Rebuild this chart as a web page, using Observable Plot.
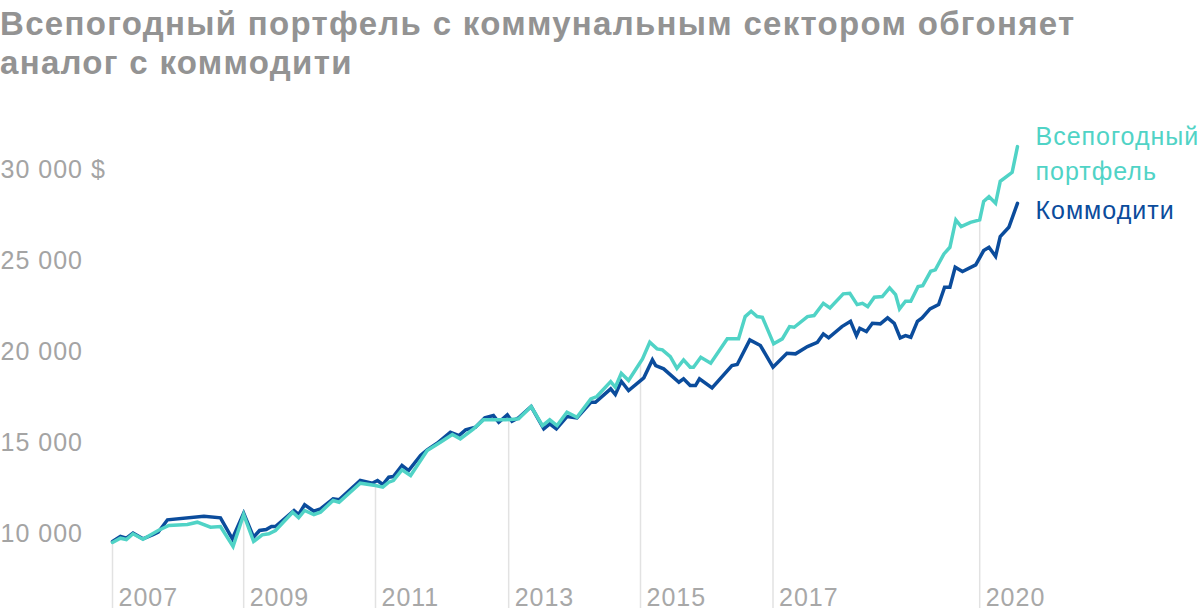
<!DOCTYPE html>
<html>
<head>
<meta charset="utf-8">
<script src="https://cdn.jsdelivr.net/npm/d3@7"></script>
<script src="https://cdn.jsdelivr.net/npm/@observablehq/plot@0.6"></script>
<style>
  html, body { margin: 0; padding: 0; background: #fff; width: 1200px; height: 614px; overflow: hidden; }
  #title { position: absolute; left: 0; top: 4px; font-family: "Liberation Sans", Arial, sans-serif; font-weight: bold; font-size: 33px; letter-spacing: 1.3px; line-height: 39px; color: #939393; white-space: nowrap; }
  #chart { position: absolute; left: 0; top: 100px; }
  #chart svg text { letter-spacing: 1px; }
</style>
</head>
<body>
<div id="title">Всепогодный портфель с коммунальным сектором обгоняет<br>аналог с коммодити</div>
<div id="chart"></div>
<script>
// ---- Data ----
const tealYears = [2007.03,2007.15,2007.24,2007.34,2007.49,2007.72,2007.88,2008.16,2008.31,2008.51,2008.66,2008.85,2009.01,2009.16,2009.29,2009.39,2009.49,2009.75,2009.84,2009.93,2010.07,2010.17,2010.36,2010.45,2010.77,2011.00,2011.11,2011.20,2011.27,2011.40,2011.53,2011.78,2011.98,2012.16,2012.28,2012.48,2012.63,2012.96,2013.16,2013.35,2013.52,2013.63,2013.74,2013.89,2014.04,2014.25,2014.34,2014.55,2014.62,2014.71,2014.82,2015.03,2015.14,2015.25,2015.33,2015.45,2015.55,2015.65,2015.75,2015.80,2015.91,2016.06,2016.31,2016.48,2016.58,2016.67,2016.76,2016.84,2017.01,2017.14,2017.25,2017.32,2017.52,2017.62,2017.76,2017.86,2018.06,2018.16,2018.27,2018.35,2018.43,2018.53,2018.65,2018.76,2018.85,2018.91,2019.00,2019.08,2019.19,2019.26,2019.38,2019.45,2019.58,2019.67,2019.76,2019.84,2019.98,2020.12,2020.18,2020.26,2020.36,2020.43,2020.61,2020.69];
const tealValues = [9505,9742,9670,9984,9687,10165,10440,10495,10622,10347,10385,9285,11045,9560,9929,9984,10165,11172,10864,11265,11045,11172,11815,11722,12767,12640,12547,12822,12915,13504,13190,14565,15022,15445,15209,15759,16254,16254,16309,16985,15940,16254,15940,16672,16397,17409,17535,18360,18047,18817,18415,19609,20522,20159,20104,19735,19092,19554,19147,19147,19697,19367,20709,20709,21935,22227,21935,21897,20434,20709,21385,21347,21935,21990,22667,22414,23184,23217,22595,22667,22485,22997,23035,23514,23145,22359,22777,22777,23585,23640,24427,24504,25384,25747,27254,26885,27122,27254,28277,28535,28167,29377,29872,31285];

const navyYears = [2007.03,2007.15,2007.24,2007.34,2007.49,2007.65,2007.72,2007.86,2008.41,2008.66,2008.84,2009.01,2009.16,2009.25,2009.35,2009.43,2009.49,2009.77,2009.84,2009.93,2010.07,2010.17,2010.36,2010.45,2010.77,2010.95,2011.03,2011.11,2011.20,2011.27,2011.40,2011.50,2011.68,2011.78,2011.93,2012.13,2012.26,2012.36,2012.51,2012.65,2012.78,2012.86,2012.99,2013.06,2013.16,2013.35,2013.54,2013.63,2013.73,2013.89,2014.04,2014.25,2014.32,2014.55,2014.62,2014.71,2014.82,2015.05,2015.18,2015.23,2015.35,2015.58,2015.65,2015.75,2015.83,2015.89,2016.08,2016.38,2016.46,2016.65,2016.81,2017.00,2017.21,2017.34,2017.52,2017.67,2017.76,2017.84,2018.04,2018.17,2018.26,2018.31,2018.41,2018.50,2018.62,2018.73,2018.83,2018.92,2019.00,2019.08,2019.18,2019.25,2019.37,2019.50,2019.59,2019.67,2019.75,2019.86,2020.06,2020.18,2020.26,2020.36,2020.43,2020.56,2020.69];
const navyValues = [9560,9835,9741,10017,9709,9945,10072,10754,10952,10864,9709,11117,9797,10165,10220,10385,10385,11265,11045,11579,11227,11359,11909,11854,12915,12767,12915,12695,13097,13135,13740,13465,14290,14604,14967,15572,15390,15704,15847,16364,16490,16122,16529,16177,16364,16985,15759,16034,15759,16435,16364,17222,17222,17959,17645,18377,17865,18564,19554,19240,19059,18322,18509,18140,18140,18509,18014,19240,19295,20654,20340,19147,19917,19884,20285,20522,20984,20764,21385,21677,20890,21292,21110,21567,21534,21864,21567,20764,20890,20797,21677,21864,22359,22595,23547,23547,24647,24410,24779,25565,25747,25252,26335,26847,28167];

const yTicks = [10000, 15000, 20000, 25000, 30000];
const yTickLabels = ["10 000", "15 000", "20 000", "25 000", "30 000 $"];
const markerYears = [2007.03, 2009.01, 2011.0, 2013.01, 2015.0, 2017.0, 2020.12];
const markerLabels = ["2007", "2009", "2011", "2013", "2015", "2017", "2020"];
const seriesLabels = ["Всепогодный\nпортфель", "Коммодити"];

const tealColor = "#50d3c6";
const navyColor = "#0b4c9c";

// ---- Build tables ----
const teal = tealYears.map((t, i) => ({year: t, value: tealValues[i]}));
const navy = navyYears.map((t, i) => ({year: t, value: navyValues[i]}));

function interp(years, values, t) {
  const i = d3.bisectLeft(years, t);
  if (i <= 0) return values[0];
  if (i >= years.length) return values[values.length - 1];
  const t0 = years[i - 1], t1 = years[i];
  return values[i - 1] + (values[i] - values[i - 1]) * (t - t0) / (t1 - t0);
}
const markers = markerYears.map((t, i) => ({
  year: t,
  label: markerLabels[i],
  top: Math.max(interp(tealYears, tealValues, t), interp(navyYears, navyValues, t))
}));
const tealEnd = [{year: tealYears[tealYears.length - 1], value: tealValues[tealValues.length - 1], label: seriesLabels[0]}];
const navyEnd = [{year: navyYears[navyYears.length - 1], value: navyValues[navyValues.length - 1], label: seriesLabels[1]}];

const font = "'Liberation Sans', Arial, sans-serif";

const chart = Plot.plot({
  width: 1200,
  height: 514,
  marginLeft: 0,
  marginRight: 0,
  marginTop: 0,
  marginBottom: 6,
  style: {fontFamily: font, background: "transparent", overflow: "visible"},
  x: {type: "linear", domain: [2007, 2021], range: [110, 1037.5], axis: null},
  y: {type: "linear", domain: [10000, 30000], range: [433, 69.5], axis: null},
  marks: [
    Plot.ruleX(markers, {x: "year", y: "top", stroke: "#e2e2e2", strokeWidth: 1.5, clip: true}),
    Plot.text(yTicks, {y: d => d, text: (d, i) => yTickLabels[i], frameAnchor: "left", textAnchor: "start", fill: "#a4a4a4", fontSize: 25}),
    Plot.text(markers, {x: "year", text: "label", frameAnchor: "bottom", textAnchor: "start", lineAnchor: "bottom", dx: 6, dy: -3, fill: "#a8a8a8", fontSize: 25}),
    Plot.line(navy, {x: "year", y: "value", stroke: navyColor, strokeWidth: 3.5, strokeLinejoin: "miter", strokeMiterlimit: 4}),
    Plot.line(teal, {x: "year", y: "value", stroke: tealColor, strokeWidth: 3.5, strokeLinejoin: "miter", strokeMiterlimit: 4}),
    Plot.text(tealEnd, {x: "year", y: "value", text: "label", textAnchor: "start", lineAnchor: "top", lineHeight: 1.4, dx: 18, dy: -26, fill: tealColor, fontSize: 25}),
    Plot.text(navyEnd, {x: "year", y: "value", text: "label", textAnchor: "start", lineAnchor: "middle", dx: 18, dy: 8, fill: navyColor, fontSize: 25})
  ]
});
document.getElementById("chart").appendChild(chart);
</script>
</body>
</html>
